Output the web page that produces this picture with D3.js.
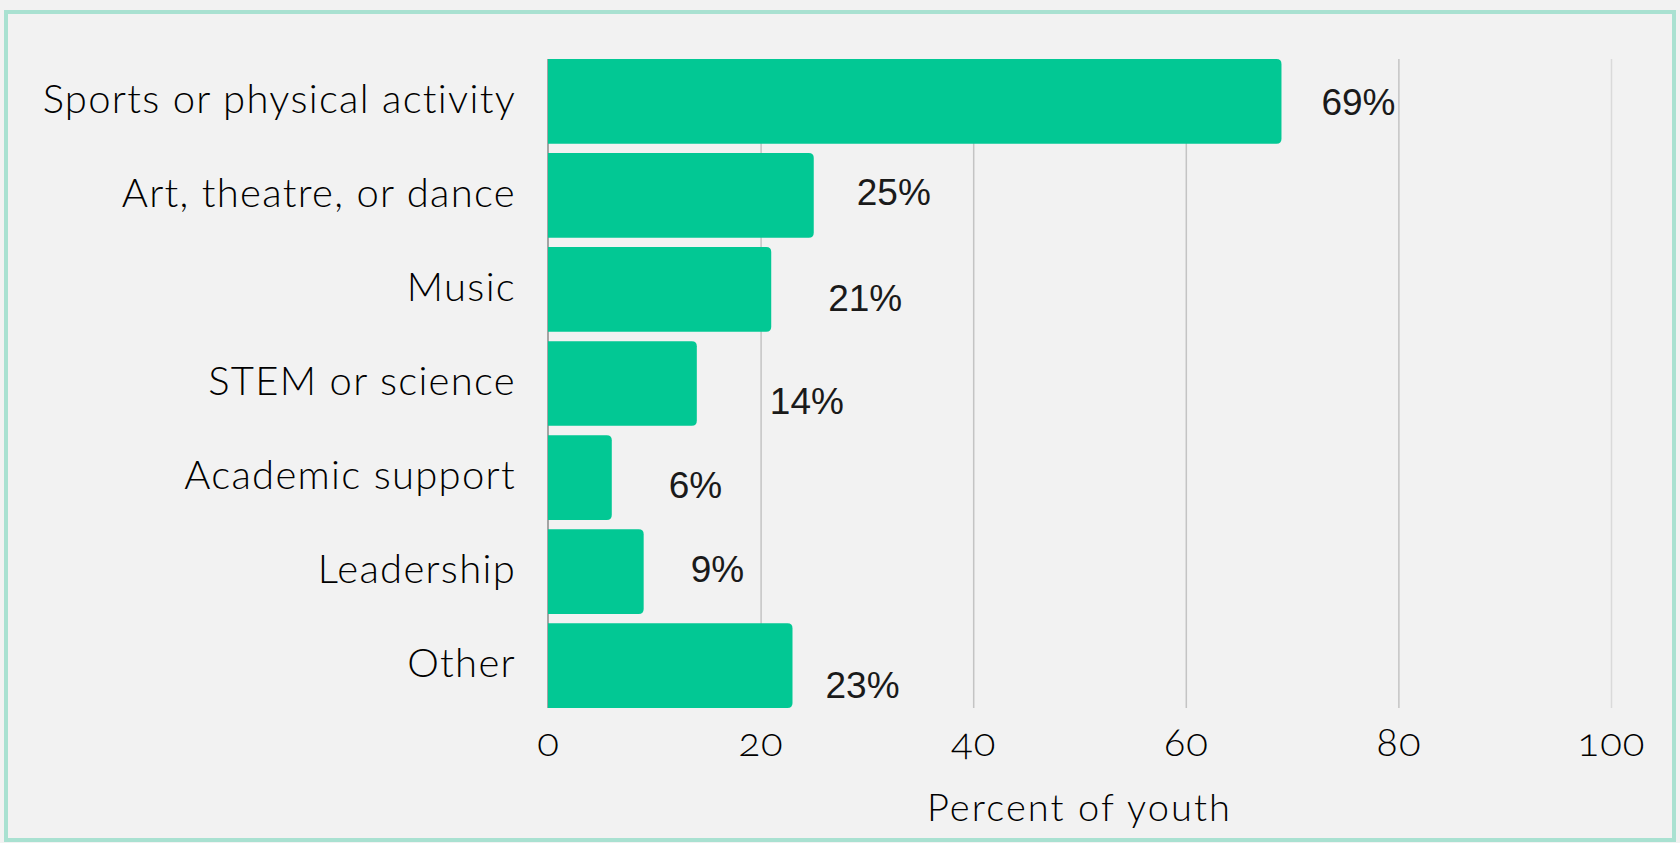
<!DOCTYPE html>
<html>
<head>
<meta charset="utf-8">
<script src="https://cdn.jsdelivr.net/npm/d3@7"></script>
<style>
  html, body { margin: 0; padding: 0; background: #f2f2f2; }
  svg { display: block; }
</style>
</head>
<body>
<svg id="chart" width="1680" height="843"></svg>
<script>
// Activity types youth take part in, share of respondents (%)
const categories = [
  "Sports or physical activity",
  "Art, theatre, or dance",
  "Music",
  "STEM or science",
  "Academic support",
  "Leadership",
  "Other"
];
const percents = [69, 25, 21, 14, 6, 9, 23];
const xTicks = [0, 20, 40, 60, 80, 100];
const axisTitle = "Percent of youth";

// Hand-placed value label offsets: dx from bar end, dy from band centre (px)
const labelDx = [40, 43, 57, 73, 57, 47, 33];
const labelDy = [14, 10, 22, 30, 20, 10, 32];

const svg = d3.select("#chart");
const W = 1680, H = 843;

const catFont = "Lato, 'Open Sans', sans-serif";
const valFont = "'Liberation Sans', Arial, sans-serif";

// panel background and border
svg.append("rect").attr("width", W).attr("height", H).attr("fill", "#f2f2f2");
svg.append("rect")
  .attr("x", 6).attr("y", 12).attr("width", 1668).attr("height", 828)
  .attr("fill", "#f2f2f2")
  .attr("stroke", "#a9e1d1").attr("stroke-width", 4);

const x = d3.scaleLinear().domain([0, 100]).range([548, 1611]);
const y = d3.scaleBand().domain(categories).range([59, 708])
  .paddingInner(0.1).paddingOuter(0);

// vertical gridlines
const grid = svg.append("g")
  .attr("transform", `translate(0,${y.range()[1]})`)
  .call(d3.axisBottom(x).tickValues(xTicks.slice(1))
    .tickSize(-(y.range()[1] - y.range()[0])).tickFormat(""));
grid.select(".domain").remove();
grid.selectAll(".tick line")
  .attr("stroke", (d) => d === 100 ? "#dadada" : "#c4c4c4")
  .attr("stroke-width", 1.5);

// category axis line
svg.append("line")
  .attr("x1", x(0)).attr("x2", x(0))
  .attr("y1", y.range()[0]).attr("y2", y.range()[1])
  .attr("stroke", "#8a8a8a").attr("stroke-width", 1.5);

// bars with rounded right corners
function barPath(x0, x1, y0, h, r) {
  r = Math.min(r, (x1 - x0), h / 2);
  return `M${x0},${y0}H${x1 - r}Q${x1},${y0} ${x1},${y0 + r}` +
         `V${y0 + h - r}Q${x1},${y0 + h} ${x1 - r},${y0 + h}H${x0}Z`;
}
svg.append("g").selectAll("path")
  .data(categories)
  .join("path")
  .attr("d", (c, i) => barPath(x(0), x(percents[i]), y(c), y.bandwidth(), 5))
  .attr("fill", "#02c894");

// value labels
svg.append("g").selectAll("text")
  .data(categories)
  .join("text")
  .attr("x", (c, i) => x(percents[i]) + labelDx[i])
  .attr("y", (c, i) => y(c) + y.bandwidth() / 2 + labelDy[i])
  .attr("font-family", valFont)
  .attr("font-size", 37)
  .attr("fill", "#1a1a1a")
  .text((c, i) => percents[i] + "%");

// category labels
const yAxis = svg.append("g")
  .attr("transform", `translate(${x(0)},0)`)
  .call(d3.axisLeft(y).tickSize(0).tickPadding(32));
yAxis.select(".domain").remove();
yAxis.selectAll("text")
  .attr("font-family", catFont)
  .attr("font-size", 40)
  .attr("font-weight", 300)
  .attr("letter-spacing", 1.3)
  .attr("fill", "#000")
  .attr("dy", "0.28em");

// x tick labels
const xAxis = svg.append("g")
  .attr("transform", `translate(0,${y.range()[1]})`)
  .call(d3.axisBottom(x).tickValues(xTicks).tickSize(0).tickPadding(0));
xAxis.select(".domain").remove();
xAxis.selectAll("text")
  .attr("font-family", catFont)
  .attr("font-size", 40)
  .attr("font-weight", 300)
  .attr("letter-spacing", 1)
  .attr("fill", "#000")
  .attr("dy", 0)
  .attr("y", 48)
  .style("font-variant-numeric", "oldstyle-nums");

// axis title
svg.append("text")
  .attr("x", (x(0) + x(100)) / 2)
  .attr("y", 821)
  .attr("text-anchor", "middle")
  .attr("font-family", catFont)
  .attr("font-size", 38)
  .attr("font-weight", 300)
  .attr("letter-spacing", 2.1)
  .attr("fill", "#000")
  .text(axisTitle);
</script>
</body>
</html>
